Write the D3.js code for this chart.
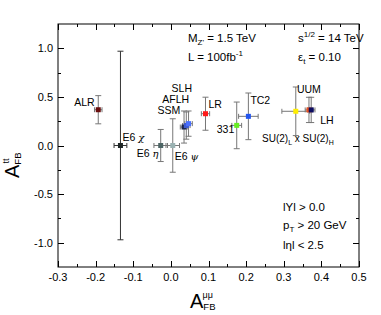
<!DOCTYPE html>
<html><head><meta charset="utf-8">
<script src="https://cdn.jsdelivr.net/npm/d3@7"></script>
<style>
body{margin:0;background:#fff;}
text{font-family:"Liberation Sans",Arial,Helvetica,sans-serif;}
</style></head>
<body><svg id="c" width="381" height="315"></svg>
<script>
// ---- data ----
const models = ["ALR","E6 χ","E6 η","E6 ψ","SSM","AFLH","SLH","LR","331","TC2","SU2xSU2","UUM","LH"];
const afbMuMu = [-0.193,-0.134,-0.027,0.005,0.035,0.041,0.047,0.092,0.175,0.206,0.332,0.367,0.373];
const afbTT   = [0.368,0.0,0.0,0.0,0.19,0.205,0.225,0.327,0.207,0.30,0.352,0.366,0.366];
const errMuMu = [0.010,0.017,0.018,0.018,0.010,0.010,0.010,0.011,0.013,0.026,0.037,0.010,0.010];
const errTT   = [0.145,0.97,0.165,0.275,0.165,0.14,0.13,0.17,0.24,0.24,0.25,0.13,0.13];
const xTicks = [-0.3,-0.2,-0.1,0.0,0.1,0.2,0.3,0.4,0.5];
const yTicks = [-1.0,-0.5,0.0,0.5,1.0];

// ---- styles ----
const colors = ["#6a0d0d","#1e2626","#4e6666","#9ab2b2","#1a2448","#3c5ad0","#4a70ff","#ff1a1a","#66ee22","#2255ee","#ffee00","#e8501e","#0c0c60"];

const svg = d3.select("#c");
const L=58,R=359,T=24,B=267;
const x = d3.scaleLinear().domain([-0.3,0.5]).range([L,R]);
const y = d3.scaleLinear().domain([-1.25,1.25]).range([B,T]);

// frame
svg.append("rect").attr("x",L).attr("y",T).attr("width",R-L).attr("height",B-T)
  .attr("fill","none").attr("stroke","#000").attr("stroke-width",1);

const xMinor = d3.range(-0.25,0.5,0.1);
const yMinor = [-0.75,-0.25,0.25,0.75];
const g = svg.append("g").attr("stroke","#000").attr("stroke-width",1);
xTicks.forEach(v=>{const px=Math.round(x(v))+0.5;
  g.append("line").attr("x1",px).attr("x2",px).attr("y1",B).attr("y2",B-6);
  g.append("line").attr("x1",px).attr("x2",px).attr("y1",T).attr("y2",T+6);});
xMinor.forEach(v=>{const px=Math.round(x(v))+0.5;
  g.append("line").attr("x1",px).attr("x2",px).attr("y1",B).attr("y2",B-3);
  g.append("line").attr("x1",px).attr("x2",px).attr("y1",T).attr("y2",T+3);});
yTicks.forEach(v=>{const py=Math.round(y(v))+0.5;
  g.append("line").attr("x1",L).attr("x2",L+6).attr("y1",py).attr("y2",py);
  g.append("line").attr("x1",R).attr("x2",R-6).attr("y1",py).attr("y2",py);});
yMinor.forEach(v=>{const py=Math.round(y(v))+0.5;
  g.append("line").attr("x1",L).attr("x2",L+3).attr("y1",py).attr("y2",py);
  g.append("line").attr("x1",R).attr("x2",R-3).attr("y1",py).attr("y2",py);});

// tick labels
svg.selectAll(".xl").data(xTicks).enter().append("text")
  .attr("x",d=>x(d)).attr("y",B+14).attr("text-anchor","middle")
  .attr("font-size",11).text(d=>d3.format(".1f")(d).replace("−","-"));
svg.selectAll(".yl").data(yTicks).enter().append("text")
  .attr("x",L-5).attr("y",d=>y(d)+4).attr("text-anchor","end")
  .attr("font-size",11).text(d=>d3.format(".1f")(d).replace("−","-"));

// axis titles
const xt = svg.append("text").attr("x",190).attr("y",308).attr("font-size",20);
xt.append("tspan").text("A");
xt.append("tspan").attr("font-size",9.5).attr("dy",1.5).text("FB");
xt.append("tspan").attr("font-size",9).attr("dx",-13).attr("dy",-12).text("μμ");
const yt = svg.append("g").attr("transform","translate(19,178) rotate(-90)")
  .append("text").attr("font-size",20);
yt.append("tspan").text("A");
yt.append("tspan").attr("font-size",9.5).attr("dy",1.5).text("FB");
yt.append("tspan").attr("font-size",9).attr("dx",-11).attr("dy",-12).text("tt");

// error bars & markers
const idx = d3.range(models.length);
const eb = svg.append("g").attr("stroke-width",1);
idx.forEach(i=>{
  const cx=x(afbMuMu[i]), cy=y(afbTT[i]);
  const col = i===1 ? "#333" : "#777";
  const y1=y(afbTT[i]+errTT[i]), y2=y(afbTT[i]-errTT[i]);
  const x1=x(afbMuMu[i]-errMuMu[i]), x2=x(afbMuMu[i]+errMuMu[i]);
  eb.append("line").attr("x1",cx).attr("x2",cx).attr("y1",y1).attr("y2",y2).attr("stroke",col);
  eb.append("line").attr("x1",cx-3).attr("x2",cx+3).attr("y1",y1).attr("y2",y1).attr("stroke",col);
  eb.append("line").attr("x1",cx-3).attr("x2",cx+3).attr("y1",y2).attr("y2",y2).attr("stroke",col);
  eb.append("line").attr("x1",x1).attr("x2",x2).attr("y1",cy).attr("y2",cy).attr("stroke",col);
  eb.append("line").attr("x1",x1).attr("x2",x1).attr("y1",cy-2.5).attr("y2",cy+2.5).attr("stroke",col);
  eb.append("line").attr("x1",x2).attr("x2",x2).attr("y1",cy-2.5).attr("y2",cy+2.5).attr("stroke",col);
});
svg.selectAll(".m").data(idx).enter().append("rect")
  .attr("x",i=>x(afbMuMu[i])-2.5).attr("y",i=>y(afbTT[i])-2.5)
  .attr("width",5).attr("height",5).attr("fill",i=>colors[i]);

// point labels (pixel offsets from each point)
const labelOff = {
  "ALR":[-24,-4],"E6 χ":[2,-5],"E6 η":[-24,11],"E6 ψ":[2,14],
  "SSM":[-26.5,-13.5],"AFLH":[-24,-23],"SLH":[-17,-32],"LR":[3,-6],
  "331":[-20,7.5],"TC2":[2,-12.5],"UUM":[-12,-17],"LH":[9,14]
};
const lg = svg.append("g").attr("font-size",10.5);
idx.forEach(i=>{
  const m=models[i]; if(!labelOff[m]) return;
  const o=labelOff[m];
  const t=lg.append("text").attr("x",x(afbMuMu[i])+o[0]).attr("y",y(afbTT[i])+o[1]);
  if(m.startsWith("E6")){ t.append("tspan").text("E6 "); t.append("tspan").attr("font-family","DejaVu Serif").attr("font-style","italic").attr("font-size",10).text(m.slice(3)); }
  else t.text(m);
});
// SU(2)L x SU(2)H label
const su = svg.append("text").attr("x",262).attr("y",142).attr("font-size",10);
su.append("tspan").text("SU(2)");
su.append("tspan").attr("font-size",7).attr("dy",3).text("L");
su.append("tspan").attr("dy",-3).text(" x SU(2)");
su.append("tspan").attr("font-size",7).attr("dy",3).text("H");

// info texts
const info = svg.append("g").attr("font-size",11.5);
let t1 = info.append("text").attr("x",188).attr("y",42);
t1.append("tspan").text("M"); t1.append("tspan").attr("font-size",8).attr("dy",3).text("Z'");
t1.append("tspan").attr("dy",-3).text(" = 1.5 TeV");
let t2 = info.append("text").attr("x",298).attr("y",42);
t2.append("tspan").text("s"); t2.append("tspan").attr("font-size",8).attr("dy",-5).text("1/2");
t2.append("tspan").attr("dy",5).text(" = 14 TeV");
let t3 = info.append("text").attr("x",188).attr("y",61);
t3.append("tspan").text("L = 100fb"); t3.append("tspan").attr("font-size",8).attr("dy",-5).text("-1");
let t4 = info.append("text").attr("x",298).attr("y",61);
t4.append("tspan").text("ε"); t4.append("tspan").attr("font-size",8).attr("dy",3).text("t");
t4.append("tspan").attr("dy",-3).text(" = 0.10");

const info2 = svg.append("g").attr("font-size",11.5);
info2.append("text").attr("x",283).attr("y",211).text("lYl > 0.0");
let t5 = info2.append("text").attr("x",283).attr("y",229);
t5.append("tspan").text("p"); t5.append("tspan").attr("font-size",8).attr("dy",3).text("T");
t5.append("tspan").attr("dy",-3).text(" > 20 GeV");
info2.append("text").attr("x",283).attr("y",249).text("lηl < 2.5");
</script></body></html>
